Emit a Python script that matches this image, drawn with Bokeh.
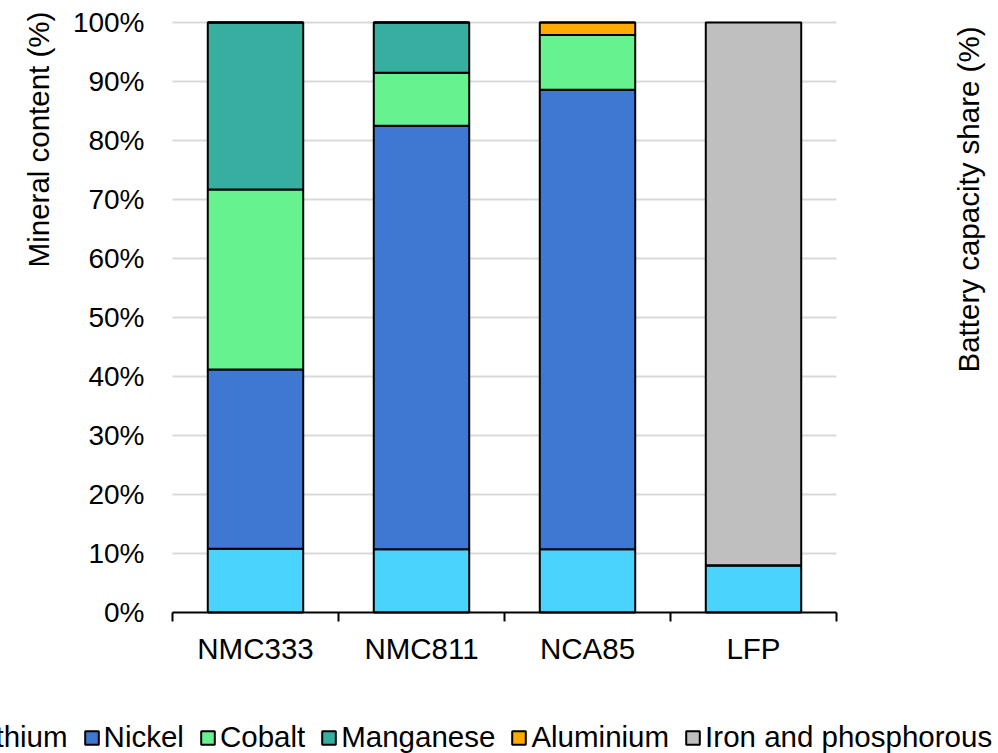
from bokeh.plotting import figure
from bokeh.models import (Range1d, FixedTicker, PrintfTickFormatter, Label, Legend,
                          LegendItem, ColumnDataSource)
from bokeh.embed import file_html
from bokeh.resources import INLINE
import math

categories = ["NMC333", "NMC811", "NCA85", "LFP"]
series_names = ["Lithium", "Nickel", "Cobalt", "Manganese", "Aluminium", "Iron and phosphorous"]
lithium = [10.8, 10.7, 10.7, 8.0]
nickel = [30.4, 71.8, 77.9, 0.0]
cobalt = [30.5, 9.0, 9.3, 0.0]
manganese = [28.3, 8.5, 0.0, 0.0]
aluminium = [0.0, 0.0, 2.1, 0.0]
iron = [0.0, 0.0, 0.0, 92.0]
y_ticks = [0, 10, 20, 30, 40, 50, 60, 70, 80, 90, 100]
colors = ["#4AD3FD", "#3E78D2", "#66F28F", "#36AFA1", "#FFAA00", "#BFBFBF"]

FONT = "Liberation Sans"

# canvas / layout (pixels)
W, H = 996, 753
PLOT_LEFT, PLOT_BOTTOM = 172, 612          # pixel position of (0, 0%)
PX_PER_CAT, PX_PER_PCT = 166, 5.9

x_start = -PLOT_LEFT / PX_PER_CAT
x_end = (W - PLOT_LEFT) / PX_PER_CAT
y_end = PLOT_BOTTOM / PX_PER_PCT
y_start = (PLOT_BOTTOM - H) / PX_PER_PCT

keys = ["s%d" % i for i in range(len(series_names))]
xs = [i + 0.5 for i in range(len(categories))]
data = {"x": xs}
for k, arr in zip(keys, [lithium, nickel, cobalt, manganese, aluminium, iron]):
    data[k] = arr
src = ColumnDataSource(data)

p = figure(width=W, height=H, output_backend="svg", toolbar_location=None,
           x_range=Range1d(x_start, x_end), y_range=Range1d(y_start, y_end),
           min_border=0)
p.outline_line_color = None
p.background_fill_color = "white"
p.border_fill_color = "white"
p.xgrid.visible = False
p.ygrid.visible = False

# horizontal gridlines across the plot area
n = len(categories)
p.segment(x0=[0] * (len(y_ticks) - 1), x1=[n] * (len(y_ticks) - 1),
          y0=y_ticks[1:], y1=y_ticks[1:], line_color="#D9D9D9", line_width=2)

renderers = p.vbar_stack(keys, x="x", width=0.575, source=src, color=colors,
                         line_color="black", line_width=2)

# x axis
xa = p.xaxis[0]
xa.fixed_location = 0
xa.bounds = (0, n)
xa.ticker = FixedTicker(ticks=xs, minor_ticks=list(range(n + 1)))
xa.major_label_overrides = {x: c for x, c in zip(xs, categories)}
xa.major_tick_line_color = None
xa.major_tick_out = 0
xa.major_tick_in = 0
xa.minor_tick_line_color = "black"
xa.minor_tick_line_width = 2
xa.minor_tick_out = 9
xa.minor_tick_in = 0
xa.axis_line_color = "black"
xa.axis_line_width = 2
xa.major_label_text_font = FONT
xa.major_label_text_font_size = "29.5px"
xa.major_label_text_color = "black"
xa.major_label_standoff = 10

# y axis
ya = p.yaxis[0]
ya.fixed_location = 0
ya.bounds = (0, 100)
ya.ticker = FixedTicker(ticks=y_ticks)
ya.formatter = PrintfTickFormatter(format="%d%%")
ya.axis_line_color = None
ya.major_tick_line_color = None
ya.minor_tick_line_color = None
ya.major_tick_out = 0
ya.major_tick_in = 0
ya.major_label_text_font = FONT
ya.major_label_text_font_size = "28px"
ya.major_label_text_color = "black"
ya.major_label_standoff = 28

# axis titles
p.add_layout(Label(x=37.8, y=H - 139, x_units="screen", y_units="screen",
                   text="Mineral content (%)", angle=math.pi / 2,
                   text_align="center", text_baseline="middle", text_font=FONT,
                   text_font_size="29.5px", text_color="black"))
p.add_layout(Label(x=967.8, y=H - 199, x_units="screen", y_units="screen",
                   text="Battery capacity share (%)", angle=math.pi / 2,
                   text_align="center", text_baseline="middle", text_font=FONT,
                   text_font_size="29.5px", text_color="black"))

legend = Legend(items=[LegendItem(label=nm, renderers=[r]) for nm, r in zip(series_names, renderers)],
                orientation="horizontal", location=(-48.5, -1),
                padding=0, margin=0, spacing=15, label_standoff=4,
                glyph_width=17, glyph_height=17, label_height=17,
                label_text_font=FONT, label_text_font_size="29.5px", label_text_color="black",
                border_line_color=None, background_fill_alpha=0)
p.add_layout(legend)

open("out.html", "w").write(file_html(p, INLINE))
